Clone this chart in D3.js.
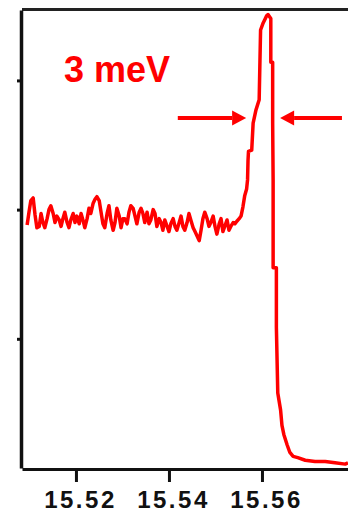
<!DOCTYPE html>
<html>
<head>
<meta charset="utf-8">
<script src="https://cdn.jsdelivr.net/npm/d3@7"></script>
<style>
  body { margin: 0; background: #fff; }
  svg { display: block; }
</style>
</head>
<body>
<div class="canvas"></div>
<script>
// photon energy (eV) and intensity (arb. units)
const energy = [
  15.5095, 15.5099, 15.5103, 15.5108, 15.5112, 15.5116, 15.5121, 15.5125, 15.5129, 15.5133,
  15.5138, 15.5142, 15.5146, 15.5151, 15.5155, 15.5159, 15.5164, 15.5168, 15.5172, 15.5176,
  15.5181, 15.5185, 15.5189, 15.5194, 15.5198, 15.5202, 15.5207, 15.5211, 15.5215, 15.5219,
  15.5224, 15.5228, 15.5232, 15.5237, 15.5241, 15.5245, 15.5250, 15.5254, 15.5258, 15.5262,
  15.5267, 15.5271, 15.5275, 15.5280, 15.5284, 15.5288, 15.5293, 15.5297, 15.5301, 15.5305,
  15.5310, 15.5314, 15.5318, 15.5323, 15.5327, 15.5331, 15.5336, 15.5340, 15.5344, 15.5348,
  15.5353, 15.5357, 15.5361, 15.5366, 15.5370, 15.5374, 15.5379, 15.5383, 15.5387, 15.5391,
  15.5396, 15.5400, 15.5404, 15.5409, 15.5413, 15.5417, 15.5422, 15.5426, 15.5430, 15.5434,
  15.5439, 15.5443, 15.5447, 15.5452, 15.5456, 15.5460, 15.5465, 15.5469, 15.5473, 15.5477,
  15.5482, 15.5486, 15.5490, 15.5495, 15.5499, 15.5503, 15.5508, 15.5512, 15.5516, 15.5520,
  15.5525, 15.5529, 15.5533, 15.5538, 15.5542, 15.5546, 15.5551, 15.5555,
  // rising edge, peak, falling edge and tail
  15.5559, 15.5563, 15.5567, 15.5569, 15.5570, 15.5571, 15.5578, 15.5581, 15.5587, 15.5594,
  15.5597, 15.5602, 15.5606, 15.5610, 15.5613, 15.5619, 15.5619, 15.5623, 15.5623, 15.5624,
  15.5624, 15.5631, 15.5631, 15.5634, 15.5640, 15.5643, 15.5647, 15.5654, 15.5660, 15.5667,
  15.5677, 15.5693, 15.5714, 15.5736, 15.5757, 15.5779, 15.5785
];
const intensity = [
  1.88, 1.98, 2.07, 2.09, 1.96, 1.86, 1.87, 1.97, 1.90, 1.86,
  1.93, 2.00, 2.03, 1.97, 1.90, 1.95, 1.92, 1.87, 1.93, 1.98,
  1.90, 1.86, 1.92, 1.97, 1.90, 1.95, 1.89, 1.97, 1.92, 1.86,
  1.93, 2.01, 1.97, 2.05, 2.08, 2.10, 2.07, 1.98, 1.89, 1.86,
  1.97, 2.03, 1.92, 1.84, 1.90, 2.01, 1.95, 1.86, 1.93, 1.93,
  1.89, 1.98, 2.03, 2.01, 1.95, 1.89, 1.98, 2.01, 1.97, 1.90,
  1.98, 1.89, 1.92, 2.00, 1.97, 1.87, 1.93, 1.90, 1.84, 1.92,
  1.87, 1.83, 1.89, 1.93, 1.87, 1.84, 1.90, 1.95, 1.87, 1.84,
  1.90, 1.97, 1.92, 1.86, 1.83, 1.80, 1.76, 1.84, 1.93, 1.98,
  1.93, 1.87, 1.90, 1.95, 1.87, 1.81, 1.89, 1.93, 1.83, 1.87,
  1.92, 1.84, 1.87, 1.90, 1.89, 1.91, 1.93, 1.95,
  2.02, 2.11, 2.16, 2.23, 2.38, 2.45, 2.46, 2.67, 2.77, 2.85,
  3.39, 3.44, 3.47, 3.50, 3.51, 3.48, 3.14, 3.14, 2.67, 2.23,
  1.55, 1.55, 1.09, 0.58, 0.45, 0.33, 0.26, 0.18, 0.12, 0.09,
  0.08, 0.06, 0.05, 0.05, 0.04, 0.03, 0.04
];

const xTicks = [15.52, 15.54, 15.56];
const yTicks = [1, 2, 3];

// annotation: width marker at this level
const fwhmLabel = '3 meV';
const fwhmLevel = 2.71;
const leftArrow = [15.5419, 15.5566];   // tail, tip
const rightArrow = [15.5772, 15.5639];  // tail, tip

const width = 348;
const height = 513;

const svg = d3.select('.canvas')
  .append('svg')
  .attr('width', width)
  .attr('height', height);

const x = d3.scaleLinear()
  .domain([15.5084, 15.5785])
  .range([22, 348]);

const y = d3.scaleLinear()
  .domain([0, 3.545])
  .range([468, 10]);

// top frame line
svg.append('line')
  .attr('x1', x.range()[0])
  .attr('x2', x.range()[1])
  .attr('y1', y.range()[1] - 0.5)
  .attr('y2', y.range()[1] - 0.5)
  .attr('stroke', '#222')
  .attr('stroke-width', 3);

// axes
const xAxis = d3.axisBottom(x)
  .tickValues(xTicks)
  .tickFormat(d3.format('.2f'))
  .tickSize(13)
  .tickSizeOuter(0);

const yAxis = d3.axisLeft(y)
  .tickValues(yTicks)
  .tickFormat('')
  .tickSize(4)
  .tickSizeOuter(0);

const xAxisGroup = svg.append('g')
  .attr('transform', `translate(0, ${y(0) + 1})`)
  .call(xAxis);

const yAxisGroup = svg.append('g')
  .attr('transform', `translate(${x.range()[0] - 1}, 0)`)
  .call(yAxis);

xAxisGroup.select('.domain')
  .attr('stroke', '#111')
  .attr('stroke-width', 3);
xAxisGroup.selectAll('.tick line')
  .attr('stroke', '#111')
  .attr('stroke-width', 3);
xAxisGroup.selectAll('.tick text')
  .attr('y', 39)
  .attr('dy', 0)
  .attr('dx', 4)
  .attr('fill', '#111')
  .attr('font-family', '"Liberation Sans", Arial, sans-serif')
  .attr('font-weight', 'bold')
  .attr('font-size', 24)
  .style('letter-spacing', '2.5px');

yAxisGroup.select('.domain')
  .attr('stroke', '#111')
  .attr('stroke-width', 3.5);
yAxisGroup.selectAll('.tick line')
  .attr('stroke', '#111')
  .attr('stroke-width', 3);

// spectrum
const points = energy.map((e, i) => ({ e, v: intensity[i] }));

const line = d3.line()
  .x(d => x(d.e))
  .y(d => y(d.v));

svg.append('path')
  .datum(points)
  .attr('d', line)
  .attr('fill', 'none')
  .attr('stroke', '#ff0000')
  .attr('stroke-width', 3.5)
  .attr('stroke-linejoin', 'round');

// width arrows
const drawArrow = (ends) => {
  const x0 = x(ends[0]);
  const x1 = x(ends[1]);
  const yy = y(fwhmLevel);
  const dir = x1 > x0 ? 1 : -1;
  const headLen = 14;
  svg.append('line')
    .attr('x1', x0)
    .attr('x2', x1 - dir * headLen)
    .attr('y1', yy)
    .attr('y2', yy)
    .attr('stroke', '#ff0000')
    .attr('stroke-width', 4);
  svg.append('path')
    .attr('d', `M${x1},${yy} L${x1 - dir * headLen},${yy - 7.5} L${x1 - dir * headLen},${yy + 7.5} Z`)
    .attr('fill', '#ff0000');
};
drawArrow(leftArrow);
drawArrow(rightArrow);

svg.append('text')
  .attr('x', 64)
  .attr('y', 82)
  .attr('fill', '#ff0000')
  .attr('font-family', '"Liberation Sans", Arial, sans-serif')
  .attr('font-weight', 'bold')
  .attr('font-size', 36)
  .text(fwhmLabel);
</script>
</body>
</html>
